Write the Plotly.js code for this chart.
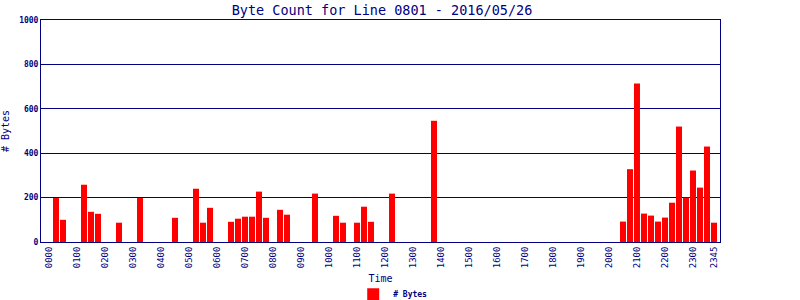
<!DOCTYPE html>
<html>
<head>
<meta charset="utf-8">
<script src="https://cdn.plot.ly/plotly-3.0.1.min.js"></script>
<style>html,body{margin:0;padding:0;background:#fff;}#chart{width:800px;height:300px;}</style>
</head>
<body>
<div id="chart"></div>
<script>
var times = [
"0000","0015","0030","0045","0100","0115","0130","0145","0200","0215","0230","0245",
"0300","0315","0330","0345","0400","0415","0430","0445","0500","0515","0530","0545",
"0600","0615","0630","0645","0700","0715","0730","0745","0800","0815","0830","0845",
"0900","0915","0930","0945","1000","1015","1030","1045","1100","1115","1130","1145",
"1200","1215","1230","1245","1300","1315","1330","1345","1400","1415","1430","1445",
"1500","1515","1530","1545","1600","1615","1630","1645","1700","1715","1730","1745",
"1800","1815","1830","1845","1900","1915","1930","1945","2000","2015","2030","2045",
"2100","2115","2130","2145","2200","2215","2230","2245","2300","2315","2330","2345"];
var bytes = [
0,198,100,0,0,258,136,127,0,0,87,0,
0,198,0,0,0,0,109,0,0,240,87,154,
0,0,91,105,114,114,227,109,0,145,123,0,
0,0,218,0,0,118,87,0,87,159,91,0,
0,218,0,0,0,0,0,546,0,0,0,0,
0,0,0,0,0,0,0,0,0,0,0,0,
0,0,0,0,0,0,0,0,0,0,92,328,
714,128,119,92,110,177,520,200,322,245,430,87];
var tickLabels = ["0000","0100","0200","0300","0400","0500","0600","0700","0800","0900","1000","1100",
"1200","1300","1400","1500","1600","1700","1800","1900","2000","2100","2200","2300","2345"];
var seriesName = "# Bytes";
var titleText = "Byte Count for Line 0801 - 2016/05/26";

var navy = "#000080";
var trace = {
  type: "bar", x: times, y: bytes, name: seriesName,
  marker: {color: "#ff0000", line: {width: 0}},
  showlegend: true
};
var layout = {
  width: 800, height: 300,
  margin: {l: 41, r: 80, t: 20, b: 58, pad: 0, autoexpand: false},
  paper_bgcolor: "#fff", plot_bgcolor: "#fff",
  bargap: 0.143,
  title: {text: titleText, font: {family: "DejaVu Sans Mono", size: 13.5, color: navy},
          x: 0.4775, xanchor: "center", y: 0.965, yanchor: "middle"},
  xaxis: {
    type: "category", range: [-1.14, 95.86], autorange: false,
    tickmode: "array", tickvals: tickLabels, ticktext: tickLabels,
    tickangle: -90, ticks: "", showgrid: false,
    tickfont: {family: "DejaVu Sans Mono", size: 9, color: navy},
    showline: true, linecolor: navy, linewidth: 1, mirror: true,
    title: {text: "Time", font: {family: "DejaVu Sans Mono", size: 10, color: navy}, standoff: 7},
    automargin: false, fixedrange: true
  },
  yaxis: {
    range: [0, 1000], autorange: false, tickvals: [0,200,400,600,800,1000],
    ticks: "", showgrid: true, gridcolor: navy, gridwidth: 1, zeroline: false,
    tickfont: {family: "DejaVu Sans Mono", size: 8, color: navy, weight: "bold"},
    showline: true, linecolor: navy, linewidth: 1, mirror: true,
    title: {text: "# Bytes", font: {family: "DejaVu Sans Mono", size: 10, color: navy}, standoff: 8},
    automargin: false, fixedrange: true
  },
  showlegend: true,
  legend: {orientation: "h", x: 0.518, xanchor: "center", y: -0.17, yanchor: "top",
           font: {family: "DejaVu Sans Mono", size: 8, color: navy, weight: "bold"},
           bgcolor: "rgba(0,0,0,0)"}
};
Plotly.newPlot("chart", [trace], layout, {displayModeBar: false, staticPlot: true});
</script>
</body>
</html>
